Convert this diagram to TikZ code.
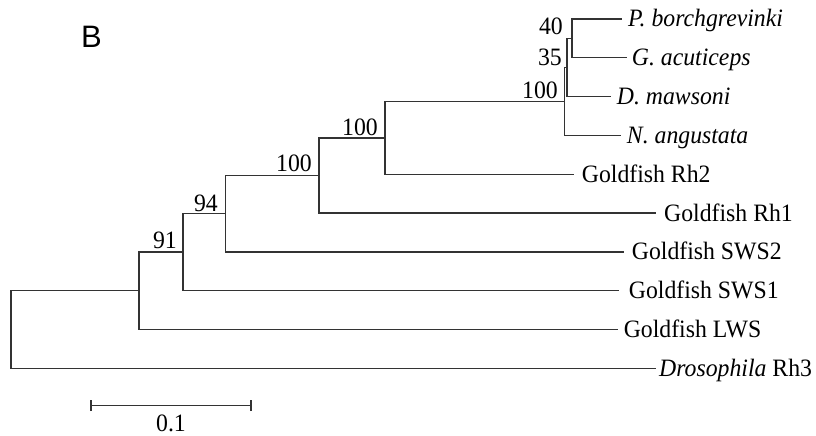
\documentclass[tikz,border=0pt]{standalone}
\usepackage{fontspec}
\setmainfont{Liberation Serif}[FakeStretch=0.95]
\newfontfamily\panelfont{Liberation Sans}
\begin{document}
\begin{tikzpicture}[x=1pt,y=-1pt,
  branch/.style={draw=black!80,line width=1.4pt,line cap=rect},
  leaf/.style={anchor=base west,inner sep=0pt,font=\fontsize{25}{30}\selectfont},
  boot/.style={anchor=base east,inner sep=0pt,font=\fontsize{25}{30}\selectfont},
]
\useasboundingbox (0,0) rectangle (816,436);

% panel letter
\node[anchor=base west,inner sep=0pt,font=\panelfont\fontsize{31}{36}\selectfont] (panel) at (81,47.7) {B};

% internal nodes of the tree
\coordinate (n40)  at (572,38.4);
\coordinate (n35)  at (567,67.5);
\coordinate (n100a) at (564.3,101.45);
\coordinate (n100b) at (385,137.8);
\coordinate (n100c) at (319,175.4);
\coordinate (n94)  at (225.7,213.6);
\coordinate (n91)  at (183,252.1);
\coordinate (nL)   at (139,290.75);
\coordinate (root) at (11,329.5);

% branch tips
\coordinate (tPb)  at (621.7,19);
\coordinate (tGa)  at (626.7,57.8);
\coordinate (tDm)  at (610,96.6);
\coordinate (tNa)  at (620,135.4);
\coordinate (tRh2) at (573,174.2);
\coordinate (tRh1) at (655,213);
\coordinate (tS2)  at (623,251.8);
\coordinate (tS1)  at (618.6,290.6);
\coordinate (tLWS) at (617,329.4);
\coordinate (tDro) at (655.7,368.2);

% taxon names
\node[leaf] (lPb)  at (628,27)     {\itshape P. borchgrevinki};
\node[leaf] (lGa)  at (631.7,65.8) {\itshape G. acuticeps};
\node[leaf] (lDm)  at (616.7,104.6){\itshape D. mawsoni};
\node[leaf] (lNa)  at (626.7,143.4){\itshape N. angustata};
\node[leaf] (lRh2) at (581.7,182.2){Goldfish Rh2};
\node[leaf] (lRh1) at (664,221)    {Goldfish Rh1};
\node[leaf] (lS2)  at (631.7,259.8){Goldfish SWS2};
\node[leaf] (lS1)  at (628.7,298.6){Goldfish SWS1};
\node[leaf] (lLWS) at (623.6,337.4){Goldfish LWS};
\node[leaf] (lDro) at (659,376.2)  {\textit{Drosophila} Rh3};

% branches
\path[branch] (n40) |- (tPb);
\path[branch] (n40) |- (tGa);
\path[branch] (n35) |- (n40);
\path[branch] (n35) |- (tDm);
\path[branch] (n100a) |- (n35);
\path[branch] (n100a) |- (tNa);
\path[branch] (n100b) |- (n100a);
\path[branch] (n100b) |- (tRh2);
\path[branch] (n100c) |- (n100b);
\path[branch] (n100c) |- (tRh1);
\path[branch] (n94) |- (n100c);
\path[branch] (n94) |- (tS2);
\path[branch] (n91) |- (n94);
\path[branch] (n91) |- (tS1);
\path[branch] (nL) |- (n91);
\path[branch] (nL) |- (tLWS);
\path[branch] (root) |- (nL);
\path[branch] (root) |- (tDro);

% bootstrap values
\node[boot] (b40)  at (563,35)    {40};
\node[boot] (b35)  at (562,66)    {35};
\node[boot] (b100a) at (558,98.5) {100};
\node[boot] (b100b) at (378,135.5){100};
\node[boot] (b100c) at (312,171.5){100};
\node[boot] (b94)  at (218,211)   {94};
\node[boot] (b91)  at (177,248.5) {91};

% scale bar
\coordinate (sbL) at (91,405.7);
\coordinate (sbR) at (251,405.7);
\path[branch,line cap=butt] (sbL) -- (sbR);
\path[branch,line cap=butt] ([yshift=-5.5pt]sbL) -- ([yshift=5.5pt]sbL);
\path[branch,line cap=butt] ([yshift=-5.5pt]sbR) -- ([yshift=5.5pt]sbR);
\node[anchor=base,inner sep=0pt,font=\fontsize{25}{30}\selectfont] (sblabel) at (171,431) {0.1};
\end{tikzpicture}
\end{document}
